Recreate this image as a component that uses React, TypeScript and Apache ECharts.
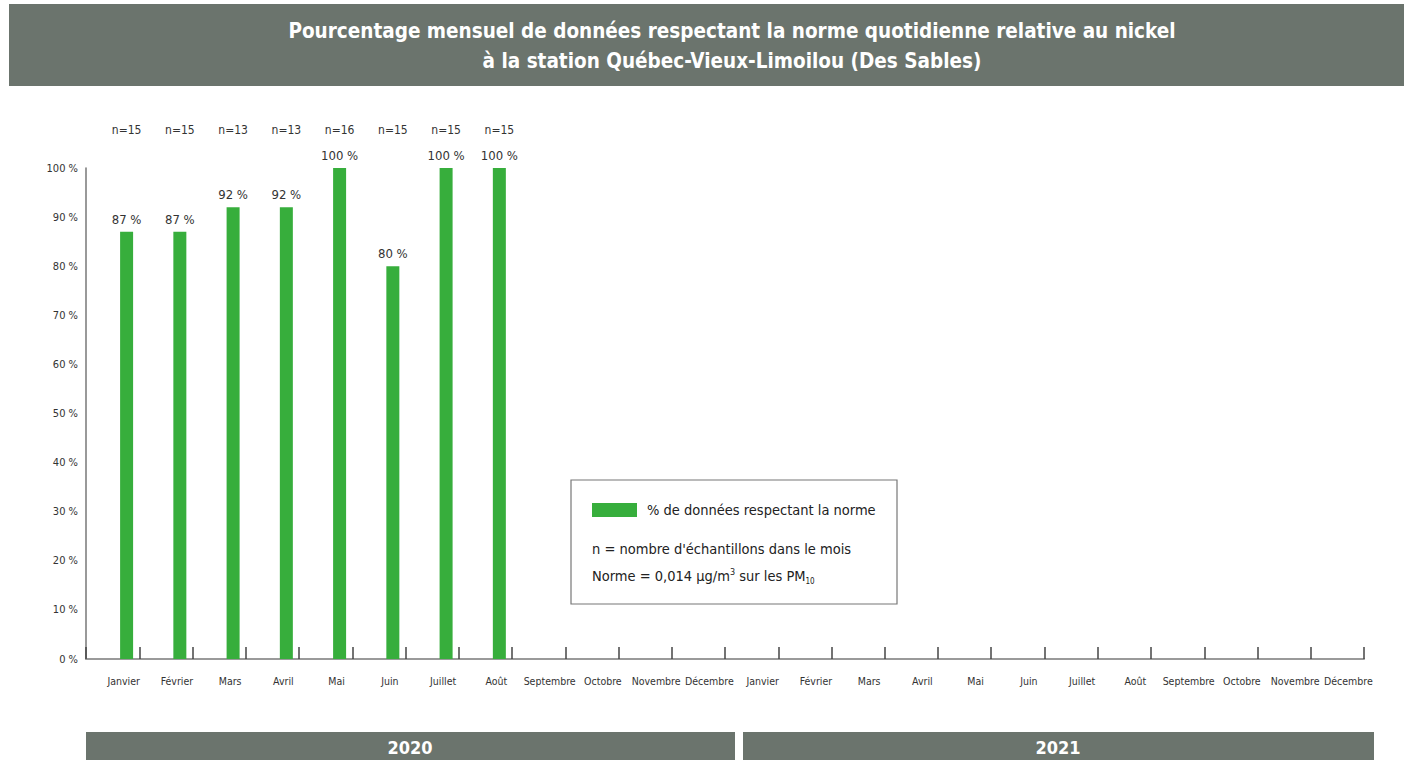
import React, { useEffect, useRef } from "react";
import * as echarts from "echarts";

const months = [
  "Janvier", "Février", "Mars", "Avril", "Mai", "Juin", "Juillet", "Août",
  "Septembre", "Octobre", "Novembre", "Décembre",
  "Janvier", "Février", "Mars", "Avril", "Mai", "Juin", "Juillet", "Août",
  "Septembre", "Octobre", "Novembre", "Décembre",
];
const percentValues: (number | null)[] = [87, 87, 92, 92, 100, 80, 100, 100];
const sampleCounts: number[] = [15, 15, 13, 13, 16, 15, 15, 15];
const yTicks = [0, 10, 20, 30, 40, 50, 60, 70, 80, 90, 100];
const years = ["2020", "2021"];
const titleLines = [
  "Pourcentage mensuel de données respectant la norme quotidienne relative au nickel",
  "à la station Québec-Vieux-Limoilou (Des Sables)",
];

const FONT = '"Liberation Sans Narrow", "DejaVu Sans Condensed", "Roboto", sans-serif';
const GREEN = "#37ae3c";
const BAND = "#6b746d";

export default function App() {
  const ref = useRef<HTMLDivElement>(null);
  useEffect(() => {
    if (!ref.current) return;
    const chart = echarts.init(ref.current, undefined, { renderer: "svg" });
    const barData = months.map((_, i) => (i < percentValues.length ? percentValues[i] : null));
    const option: any = {
      animation: false,
      textStyle: { fontFamily: FONT },
      grid: { left: 86, right: 40, top: 168, bottom: 101 },
      xAxis: {
        type: "category",
        data: months,
        boundaryGap: true,
        axisLine: { show: true, lineStyle: { color: "#9a9a9a", width: 2 } },
        axisTick: { show: true, inside: true, length: 12, lineStyle: { color: "#444", width: 1.5 } },
        axisLabel: {
          color: "#333",
          fontSize: 10.5,
          fontFamily: FONT,
          margin: 16,
          interval: 0,
          padding: [0, 0, 0, 22],
        },
        splitLine: { show: false },
      },
      yAxis: {
        type: "value",
        min: 0,
        max: 100,
        interval: 10,
        axisLine: { show: true, lineStyle: { color: "#777", width: 1.5 } },
        axisTick: { show: false },
        splitLine: { show: false },
        axisLabel: {
          color: "#333",
          fontSize: 11,
          fontFamily: FONT,
          margin: 8,
          formatter: (v: number) => (yTicks.includes(v) ? `${v} %` : ""),
        },
      },
      series: [
        {
          type: "bar",
          name: "dummy",
          data: months.map(() => null),
          barWidth: 13,
          barGap: "115%",
          silent: true,
        },
        {
          type: "bar",
          name: "% de données respectant la norme",
          data: barData,
          barWidth: 13,
          barGap: "115%",
          itemStyle: { color: GREEN },
          label: {
            show: true,
            position: "top",
            distance: 6,
            formatter: (p: any) => `${p.value} %`,
            color: "#333",
            fontSize: 13,
            fontFamily: FONT,
          },
        },
        {
          type: "custom",
          name: "n",
          clip: false,
          data: sampleCounts.map((n, i) => [i, n]),
          renderItem: (params: any, api: any) => {
            const idx = api.value(0);
            const top = api.coord([idx, 100]);
            return {
              type: "text",
              x: top[0] + 14,
              y: top[1] - 38,
              style: {
                text: `n=${api.value(1)}`,
                fill: "#333",
                fontSize: 12,
                fontFamily: FONT,
                align: "center",
                verticalAlign: "middle",
              },
            };
          },
        },
      ],
      graphic: [
        { type: "rect", shape: { x: 9, y: 4, width: 1395, height: 82 }, style: { fill: BAND } },
        {
          type: "text",
          x: 732,
          y: 31,
          style: { text: titleLines[0], fill: "#fff", fontSize: 20.5, fontWeight: "bold", fontFamily: FONT, align: "center", verticalAlign: "middle" },
        },
        {
          type: "text",
          x: 732,
          y: 61,
          style: { text: titleLines[1], fill: "#fff", fontSize: 20.5, fontWeight: "bold", fontFamily: FONT, align: "center", verticalAlign: "middle" },
        },
        { type: "rect", shape: { x: 86, y: 732, width: 649, height: 28 }, style: { fill: BAND } },
        { type: "rect", shape: { x: 743, y: 732, width: 631, height: 28 }, style: { fill: BAND } },
        {
          type: "text",
          x: 410,
          y: 747,
          style: { text: years[0], fill: "#fff", fontSize: 18, fontWeight: "bold", fontFamily: FONT, align: "center", verticalAlign: "middle" },
        },
        {
          type: "text",
          x: 1058,
          y: 747,
          style: { text: years[1], fill: "#fff", fontSize: 18, fontWeight: "bold", fontFamily: FONT, align: "center", verticalAlign: "middle" },
        },
        { type: "rect", shape: { x: 571, y: 480, width: 326, height: 124 }, style: { fill: "#fff", stroke: "#777", lineWidth: 1.2 } },
        { type: "rect", shape: { x: 592, y: 503, width: 45, height: 14 }, style: { fill: GREEN } },
        {
          type: "text",
          x: 647,
          y: 510,
          style: { text: "% de données respectant la norme", fill: "#222", fontSize: 14.5, fontFamily: FONT, align: "left", verticalAlign: "middle" },
        },
        {
          type: "text",
          x: 592,
          y: 549,
          style: { text: "n = nombre d'échantillons dans le mois", fill: "#222", fontSize: 14.5, fontFamily: FONT, align: "left", verticalAlign: "middle" },
        },
        {
          type: "text",
          x: 592,
          y: 576,
          style: {
            text: "Norme = 0,014 µg/m{sup|3} sur les PM{sub|10}",
            fill: "#222",
            fontSize: 14.5,
            fontFamily: FONT,
            align: "left",
            verticalAlign: "middle",
            rich: {
              sup: { fontSize: 9, fill: "#222", fontFamily: FONT, padding: [0, 0, 8, 0] },
              sub: { fontSize: 8, fill: "#222", fontFamily: FONT, padding: [10, 0, 0, 0] },
            },
          },
        },
      ],
    };
    chart.setOption(option);
    return () => chart.dispose();
  }, []);
  return (
    <div
      ref={ref}
      style={{ position: "absolute", left: 0, top: 0, width: 1404, height: 760, background: "#fff" }}
    />
  );
}
